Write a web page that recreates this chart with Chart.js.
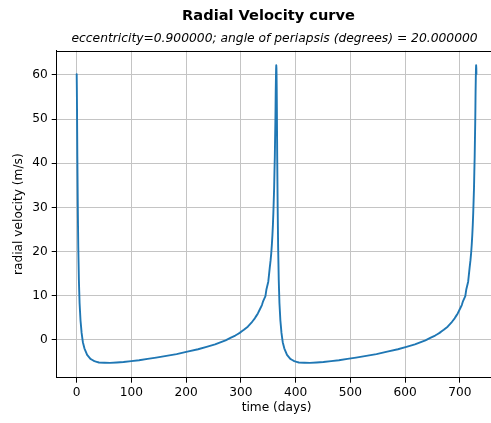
<!DOCTYPE html>
<html>
<head>
<meta charset="utf-8">
<title>Radial Velocity curve</title>
<script src="https://cdn.jsdelivr.net/npm/chart.js@4/dist/chart.umd.min.js"></script>
<style>
  html, body { margin: 0; padding: 0; background: #fff; overflow: hidden; }
  #frame { width: 491px; height: 423px; overflow: hidden; position: relative; }
  canvas { display: block; }
</style>
</head>
<body>
<div id="frame"><canvas id="rv" width="537" height="423"></canvas></div>
<script>
// Observation times (days) over two orbital periods
const days = [
  0.0, 0.3, 0.6, 1.2, 2.0, 2.9, 4.0, 5.3, 7.0, 9.0,
  11.3, 14.1, 19.1, 25.1, 32.3, 40.7, 60.9, 85.5, 113.9, 145.1,
  182.5, 221.7, 252.7, 271.9, 289.6, 297.7, 305.4, 312.5, 319.2, 325.3,
  330.9, 338.3, 340.6, 344.7, 346.6, 349.9, 352.7, 354.1, 355.3, 356.4,
  357.4, 358.3, 359.1, 359.9, 360.6, 361.2, 361.8, 362.3, 362.8, 363.2,
  363.5, 363.9, 364.2, 364.5, 364.8,
  365.0, 365.3, 365.6, 366.2, 367.0, 367.9, 369.0, 370.3, 372.0, 374.0,
  376.3, 379.1, 384.1, 390.1, 397.3, 405.7, 425.9, 450.5, 478.9, 510.1,
  547.5, 586.7, 617.7, 636.9, 654.6, 662.7, 670.4, 677.5, 684.2, 690.3,
  695.9, 703.3, 705.6, 709.7, 711.6, 714.9, 717.7, 719.1, 720.3, 721.4,
  722.4, 723.3, 724.1, 724.9, 725.6, 726.2, 726.8, 727.3, 727.8, 728.2,
  728.5, 728.9, 729.2, 729.5, 729.8,
  730.0
];

// Radial velocity (m/s) at each time above
const velocity = [
  60.2, 56.9, 52.5, 41.5, 30.4, 21.0, 13.7, 8.3, 4.4, 1.6,
  -0.5, -1.9, -3.4, -4.3, -4.8, -5.1, -5.2, -5.0, -4.6, -4.0,
  -3.2, -2.1, -1.0, -0.1, 1.0, 1.6, 2.3, 3.0, 3.9, 4.9,
  6.0, 7.9, 8.8, 9.9, 11.5, 13.2, 16.5, 18.0, 19.6, 21.5,
  23.6, 25.9, 28.5, 31.6, 34.4, 38.1, 41.3, 45.3, 49.0, 52.9,
  56.4, 59.4, 61.4, 62.2, 61.5,
  60.2, 56.9, 52.5, 41.5, 30.4, 21.0, 13.7, 8.3, 4.4, 1.6,
  -0.5, -1.9, -3.4, -4.3, -4.8, -5.1, -5.2, -5.0, -4.6, -4.0,
  -3.2, -2.1, -1.0, -0.1, 1.0, 1.6, 2.3, 3.0, 3.9, 4.9,
  6.0, 7.9, 8.8, 9.9, 11.5, 13.2, 16.5, 18.0, 19.6, 21.5,
  23.6, 25.9, 28.5, 31.6, 34.4, 38.1, 41.3, 45.3, 49.0, 52.9,
  56.4, 59.4, 61.4, 62.2, 61.5,
  60.2
];

const xTicks = [0, 100, 200, 300, 400, 500, 600, 700];
const yTicks = [0, 10, 20, 30, 40, 50, 60];

const titleText = 'Radial Velocity curve';
const subtitleText = 'eccentricity=0.900000; angle of periapsis (degrees) = 20.000000';
const xLabel = 'time (days)';
const yLabel = 'radial velocity (m/s)';

const FONT = "'DejaVu Sans', 'Liberation Sans', sans-serif";
Chart.defaults.font.family = FONT;
Chart.defaults.color = '#000';

const points = days.map((d, i) => ({ x: d, y: velocity[i] }));

// Plot frame (axes box) in canvas pixels
const BOX = { left: 56.7, right: 496.4, top: 50.7, bottom: 377.7 };
const CANVAS_W = 537, CANVAS_H = 423;

// Headline text plus the top spine of the axes box
const decorations = {
  id: 'decorations',
  afterDatasetsDraw(chart) {
    const { ctx, chartArea } = chart;
    ctx.save();
    ctx.strokeStyle = '#000';
    ctx.lineWidth = 1;
    ctx.beginPath();
    ctx.moveTo(chartArea.left, Math.round(chartArea.top) + 0.5);
    ctx.lineTo(chartArea.right, Math.round(chartArea.top) + 0.5);
    ctx.stroke();
    ctx.restore();
  },
  afterDraw(chart) {
    const { ctx, chartArea, width } = chart;
    ctx.save();
    ctx.fillStyle = '#000';
    ctx.textAlign = 'center';
    ctx.textBaseline = 'alphabetic';
    ctx.font = 'bold 14.6px ' + FONT;
    ctx.fillText(titleText, width / 2, 20);
    ctx.font = 'italic 12.3px ' + FONT;
    ctx.fillText(subtitleText, (chartArea.left + chartArea.right) / 2 - 2, 42);
    ctx.restore();
  }
};

new Chart(document.getElementById('rv'), {
  type: 'line',
  data: {
    datasets: [{
      data: points,
      borderColor: '#1f77b4',
      borderWidth: 1.9,
      borderJoinStyle: 'round',
      borderCapStyle: 'round',
      pointRadius: 0,
      // a tiny non-zero tension keeps the full path renderer (no pixel-column merging)
      tension: 0.0001,
      fill: false
    }]
  },
  options: {
    responsive: false,
    animation: false,
    devicePixelRatio: 1,
    parsing: false,
    layout: {
      padding: { left: 0, right: CANVAS_W - BOX.right, top: BOX.top, bottom: 0 }
    },
    plugins: {
      legend: { display: false },
      tooltip: { enabled: false }
    },
    scales: {
      x: {
        type: 'linear',
        min: -36.5,
        max: 766.5,
        afterBuildTicks(scale) { scale.ticks = xTicks.map(v => ({ value: v })); },
        afterFit(scale) { scale.height = CANVAS_H - BOX.bottom; },
        ticks: {
          font: { size: 12.2 },
          color: '#000',
          padding: 3,
          maxRotation: 0,
          callback: v => String(v)
        },
        grid: {
          color: '#c4c4c4',
          lineWidth: 1,
          tickColor: '#000',
          tickLength: 5,
          tickWidth: 1
        },
        border: { color: '#000', width: 1 },
        title: {
          display: true,
          text: xLabel,
          font: { size: 12.2 },
          color: '#000',
          padding: { top: 0, bottom: 7.9 }
        }
      },
      y: {
        type: 'linear',
        min: -8.55,
        max: 65.5,
        afterBuildTicks(scale) { scale.ticks = yTicks.map(v => ({ value: v })); },
        afterFit(scale) { scale.width = BOX.left; },
        ticks: {
          font: { size: 12.2 },
          color: '#000',
          padding: 4,
          callback: v => String(v)
        },
        grid: {
          color: '#c4c4c4',
          lineWidth: 1,
          tickColor: '#000',
          tickLength: 5,
          tickWidth: 1
        },
        border: { color: '#000', width: 1 },
        title: {
          display: true,
          text: yLabel,
          font: { size: 12.2 },
          color: '#000',
          padding: { top: 11.1, bottom: 0 }
        }
      }
    }
  },
  plugins: [decorations]
});
</script>
</body>
</html>
